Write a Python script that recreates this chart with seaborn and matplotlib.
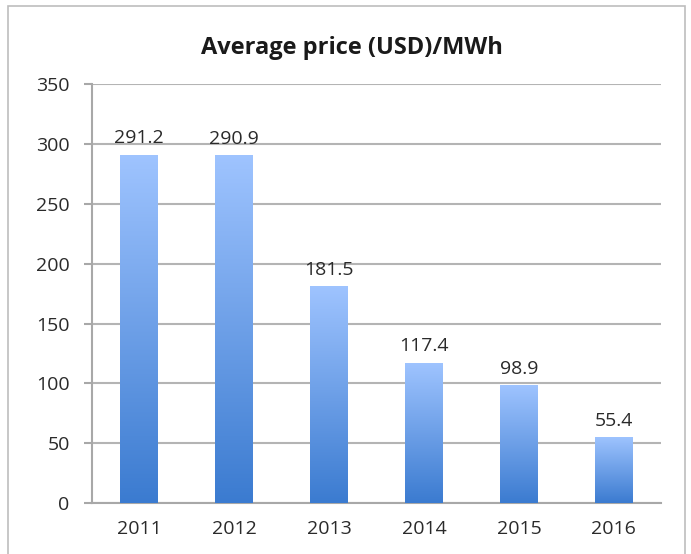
# -*- coding: utf-8 -*-
"""
Average electricity price per MWh, bar chart
"""

import numpy as np
import pandas as pd
import matplotlib.pyplot as plt
import seaborn as sns
from matplotlib.colors import LinearSegmentedColormap
from matplotlib.patches import Rectangle

# 年份和平均价格数据
years = ['2011', '2012', '2013', '2014', '2015', '2016']
prices = [291.2, 290.9, 181.5, 117.4, 98.9, 55.4]
y_ticks = [0, 50, 100, 150, 200, 250, 300, 350]
data = pd.DataFrame({'year': years, 'price': prices})

sns.set_style('white')
plt.rcParams['font.family'] = ['Open Sans', 'DejaVu Sans']

fig = plt.figure(figsize=(6.91, 5.54), dpi=100)
ax = fig.add_axes([0.133, 0.092, 0.824, 0.756])
# 外框
fig.patches.append(Rectangle((0.012, -0.05), 0.98, 1.04, transform=fig.transFigure,
                             fill=False, edgecolor='#BDBDBD', linewidth=1.2))

# 绘制柱状图
sns.barplot(data=data, x='year', y='price', width=0.4, color='#6A9FE8', ax=ax, zorder=3)

# 每个柱子使用渐变色填充
cmap = LinearSegmentedColormap.from_list('bar', ['#3B7BD0', '#9FC4FF'])
grad = np.linspace(0, 1, 256).reshape(-1, 1)
for bar in ax.patches:
    x0, y0 = bar.get_x(), bar.get_y()
    w, h = bar.get_width(), bar.get_height()
    im = ax.imshow(grad, cmap=cmap, origin='lower', aspect='auto',
                   extent=[x0, x0 + w, y0, y0 + h], zorder=4)
    im.set_clip_path(bar)
    bar.set_edgecolor('none')

# 数值标签
for i, v in enumerate(prices):
    ax.text(i, v + 6, f'{v:.1f}', ha='center', va='bottom', fontsize=14, color='#2A2A2A', zorder=5)

ax.set_xlim(-0.5, len(years) - 0.5)
ax.set_ylim(0, 350)
ax.set_yticks(y_ticks)
ax.yaxis.grid(True, color='#B4B4B4', linewidth=1.5, zorder=0)
ax.set_axisbelow(True)
ax.set_xlabel('')
ax.set_ylabel('')

# 坐标轴样式
for side in ['top', 'right']:
    ax.spines[side].set_visible(False)
for side in ['left', 'bottom']:
    ax.spines[side].set_color('#A8A8A8')
    ax.spines[side].set_linewidth(1.5)
ax.tick_params(axis='x', which='major', length=0, pad=12, labelsize=14, labelcolor='#2A2A2A')
ax.set_xticks(np.arange(-0.5, len(years)), minor=True)
ax.tick_params(axis='x', which='minor', length=5, width=1.5, color='#A8A8A8', direction='out')
ax.tick_params(axis='y', length=6, width=1.5, color='#A8A8A8', direction='out', pad=10,
               labelsize=14, labelcolor='#2A2A2A', left=True)

fig.suptitle('Average price (USD)/MWh', x=0.51, y=0.935, fontsize=17, fontweight='bold',
             color='#1A1A1A')

plt.savefig('out.png', dpi=100)
